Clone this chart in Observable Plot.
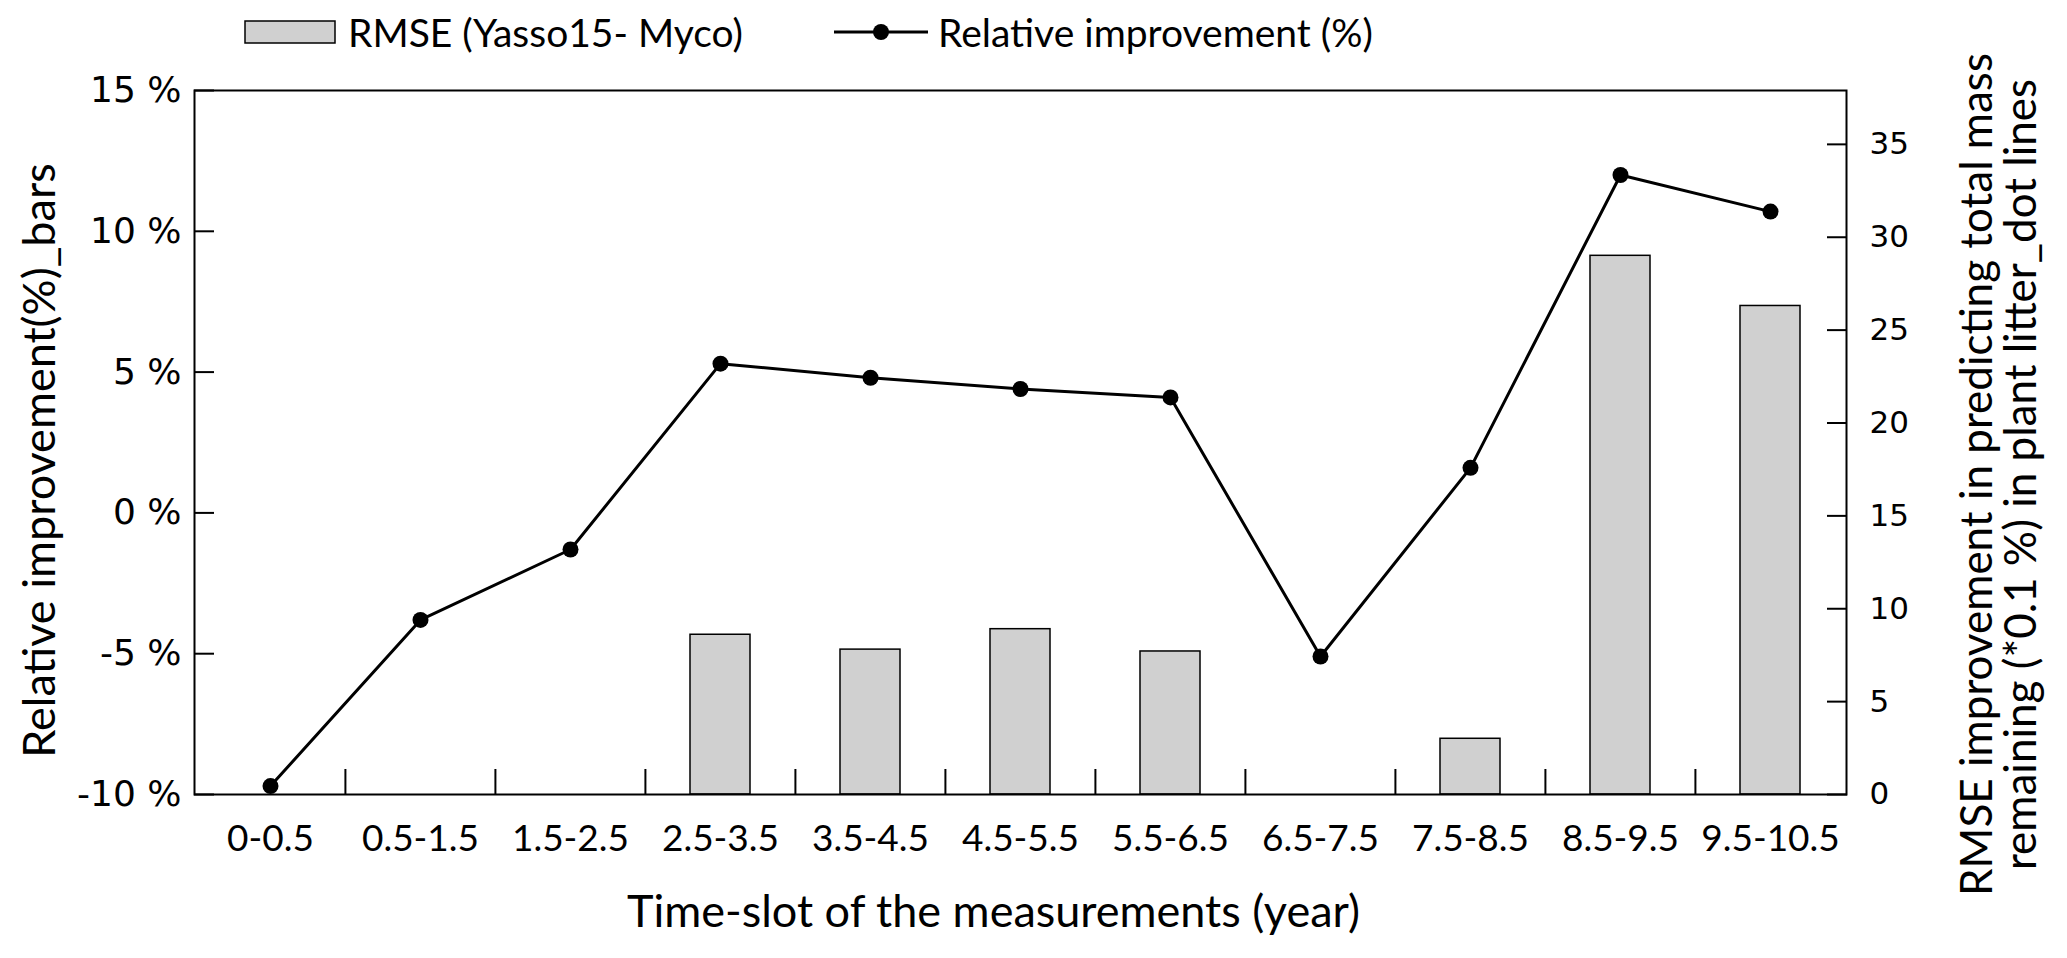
<!DOCTYPE html>
<html>
<head>
<meta charset="utf-8">
<script src="https://cdn.jsdelivr.net/npm/d3@7"></script>
<script src="https://cdn.jsdelivr.net/npm/@observablehq/plot@0.6"></script>
<style>
  html, body { margin: 0; padding: 0; background: #fff; }
  #wrap { position: relative; width: 2067px; height: 958px; }
  #legend { position: absolute; left: 0; top: 0; width: 2067px; height: 64px; font-family: Lato, sans-serif; font-size: 39px; color: #000; z-index: 2; }
  #legend .item { position: absolute; top: 0; height: 64px; display: flex; align-items: center; white-space: nowrap; }
  #chart svg { display: block; }
</style>
</head>
<body>
<div id="wrap">
  <div id="chart"></div>
  <div id="legend"></div>
</div>
<script>
// ---- data ----
const categories = ["0-0.5", "0.5-1.5", "1.5-2.5", "2.5-3.5", "3.5-4.5", "4.5-5.5", "5.5-6.5", "6.5-7.5", "7.5-8.5", "8.5-9.5", "9.5-10.5"];
const rmseBars = [0, 0, 0, 8.6, 7.8, 8.9, 7.7, 0, 3.0, 29.0, 26.3];           // right axis (*0.1 %)
const relativeImprovement = [-9.7, -3.8, -1.3, 5.3, 4.8, 4.4, 4.1, -5.1, 1.6, 12.0, 10.7]; // left axis (%)
const leftTicks = [-10, -5, 0, 5, 10, 15];
const rightTicks = [0, 5, 10, 15, 20, 25, 30, 35];
const leftDomain = [-10, 15];
const rightDomain = [0, 37.9];
const seriesNames = ["RMSE (Yasso15- Myco)", "Relative improvement (%)"];
const xTitle = "Time-slot of the measurements (year)";
const leftTitle = "Relative improvement(%)_bars";
const rightTitle = "RMSE improvement in predicting total mass\nremaining (*0.1 %) in plant litter_dot lines";

// map right-axis values onto the left (primary) scale
const toLeft = v => leftDomain[0] + (v - rightDomain[0]) * (leftDomain[1] - leftDomain[0]) / (rightDomain[1] - rightDomain[0]);
const rows = categories.map((c, i) => ({cat: c, rmse: rmseBars[i], rel: relativeImprovement[i]}));

// ---- legend ----
const legend = document.getElementById("legend");
legend.innerHTML = `
  <div class="item" style="left:244px">
    <svg width="92" height="26" style="margin-right:12px"><rect x="1" y="2" width="90" height="22" fill="#d0d0d0" stroke="#000" stroke-width="1.5"/></svg>
    <span>${seriesNames[0]}</span>
  </div>
  <div class="item" style="left:834px">
    <svg width="94" height="26" style="margin-right:10px"><line x1="0" y1="13" x2="94" y2="13" stroke="#000" stroke-width="3"/><circle cx="47" cy="13" r="8" fill="#000"/></svg>
    <span>${seriesNames[1]}</span>
  </div>`;

// ---- chart ----
const W = 2067, H = 958, mL = 194, mR = 221, mT = 90, mB = 164;
const step = (W - mL - mR) / categories.length;

const chart = Plot.plot({
  width: W, height: H,
  marginLeft: mL, marginRight: mR, marginTop: mT, marginBottom: mB,
  style: {background: "#fff", color: "#000"},
  x: {domain: categories, paddingInner: 0.6, paddingOuter: 0.3, axis: null},
  y: {domain: leftDomain, axis: null},
  marks: [
    Plot.barY(rows, {x: "cat", y1: leftDomain[0], y2: d => toLeft(d.rmse), fill: "#d0d0d0", stroke: "#000", strokeWidth: 1.5}),
    Plot.line(rows, {x: "cat", y: "rel", stroke: "#000", strokeWidth: 3}),
    Plot.dot(rows, {x: "cat", y: "rel", r: 8, fill: "#000", stroke: "none"}),
    Plot.frame({stroke: "#000", strokeWidth: 2}),
    Plot.axisY(leftTicks, {anchor: "left", label: null, tickSize: -20, tickPadding: 33, strokeWidth: 2,
      tickFormat: d => `${d} %`, fontFamily: "DejaVu Sans", fontSize: 36}),
    Plot.axisY(rightTicks.map(toLeft), {anchor: "right", label: null, tickSize: -20, tickPadding: 43, strokeWidth: 2,
      tickFormat: d => String(Math.round((d - leftDomain[0]) * (rightDomain[1] - rightDomain[0]) / (leftDomain[1] - leftDomain[0]))),
      fontFamily: "DejaVu Sans", fontSize: 31}),
    Plot.axisX(categories, {anchor: "bottom", label: null, tickSize: 0, tickPadding: 30, fontFamily: "Lato", fontSize: 37}),
    Plot.axisX(categories.slice(1), {anchor: "bottom", label: null, tickSize: -25, dx: -step / 2, strokeWidth: 2, tickFormat: () => ""}),
    Plot.text([xTitle], {frameAnchor: "bottom", textAnchor: "middle", dx: -27, dy: 118, lineAnchor: "middle", fontFamily: "Lato", fontSize: 45}),
    Plot.text([leftTitle], {frameAnchor: "left", textAnchor: "middle", dx: -154, dy: 18, rotate: -90, lineAnchor: "middle", fontFamily: "Lato", fontSize: 45}),
    Plot.text([rightTitle], {frameAnchor: "right", textAnchor: "middle", dx: 153, dy: 32, rotate: -90, lineAnchor: "middle", lineHeight: 1.0, fontFamily: "Lato", fontSize: 44})
  ]
});
document.getElementById("chart").appendChild(chart);
</script>
</body>
</html>
